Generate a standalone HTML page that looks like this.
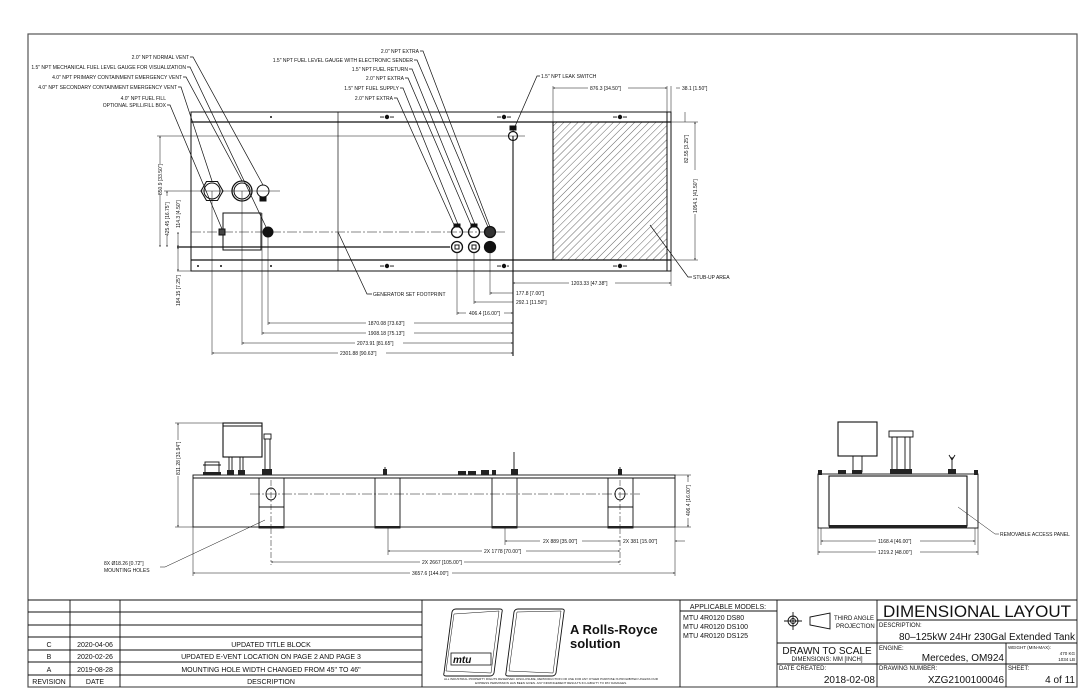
<!DOCTYPE html>
<html><head><meta charset="utf-8"><style>
html,body{margin:0;padding:0;background:#fff;}
svg{display:block;}
text{font-family:"Liberation Sans Narrow","Liberation Sans",sans-serif;fill:#111;}
.s{font-size:5px;}
.m{font-size:7px;}
</style></head><body>
<svg width="1090" height="700" viewBox="0 0 1090 700" xmlns="http://www.w3.org/2000/svg">
<defs>
<pattern id="h" patternUnits="userSpaceOnUse" width="5" height="5" patternTransform="rotate(45)">
<line x1="0" y1="0" x2="0" y2="5" stroke="#222" stroke-width="0.7"/>
</pattern>
<marker id="a" viewBox="0 0 6 6" refX="6" refY="3" markerWidth="4" markerHeight="4" orient="auto-start-reverse"><path d="M0 1L6 3L0 5z" fill="#111"/></marker>
</defs>
<rect x="0" y="0" width="1090" height="700" fill="#fff"/>
<rect x="28" y="34" width="1049" height="653" fill="none" stroke="#555" stroke-width="1.2"/>

<!-- ===== TOP VIEW ===== -->
<g stroke="#111" fill="none" stroke-width="1">
<rect x="191" y="112" width="480" height="159"/>
<line x1="191" y1="122" x2="671" y2="122" stroke-width="1.2"/>
<line x1="191" y1="260" x2="671" y2="260" stroke-width="1.2"/>
<line x1="338" y1="112" x2="338" y2="271" stroke-width="0.7"/>
<rect x="553" y="122" width="114" height="138" fill="url(#h)"/>
<line x1="667" y1="112" x2="667" y2="271"/>
<line x1="157" y1="136" x2="525" y2="136" stroke-width="0.5"/>
<line x1="177" y1="247" x2="450" y2="247" stroke-width="1.2"/>
<line x1="177" y1="271" x2="191" y2="271" stroke-width="0.5"/>
<line x1="157" y1="191" x2="280" y2="191" stroke-width="0.5"/>
<line x1="191" y1="232" x2="505" y2="232" stroke-width="0.6" stroke-dasharray="10 2 2 2"/>
<polygon points="223,191 217.5,200.5 206.5,200.5 201,191 206.5,181.5 217.5,181.5" stroke-width="1.1"/>
<circle cx="212" cy="191" r="8"/>
<circle cx="242" cy="191" r="10" stroke-width="1.3"/>
<circle cx="242" cy="191" r="8"/>
<circle cx="263" cy="191" r="6" stroke-width="1"/>
<rect x="260" y="197" width="6" height="4" fill="#111"/>
<rect x="223" y="213" width="38" height="37"/>
<rect x="219" y="229" width="6" height="6" fill="#444"/>
<circle cx="268" cy="232" r="5" fill="#111"/>
<line x1="212" y1="191" x2="212" y2="355" stroke-width="0.5"/>
<line x1="242" y1="191" x2="242" y2="345" stroke-width="0.5"/>
<line x1="262" y1="213" x2="262" y2="335" stroke-width="0.5"/>
<line x1="268" y1="232" x2="268" y2="325" stroke-width="0.5"/>
<g stroke-width="1.3">
<circle cx="457" cy="232" r="5.5"/><circle cx="474" cy="232" r="5.5"/><circle cx="490" cy="232" r="5.5" fill="#333"/>
<circle cx="457" cy="247" r="5.5"/><circle cx="474" cy="247" r="5.5"/><circle cx="490" cy="247" r="5.5" fill="#111"/>
</g>
<rect x="454" y="224" width="6" height="3" fill="#111"/><rect x="471" y="224" width="6" height="3" fill="#111"/>
<rect x="455" y="245" width="4" height="4"/><rect x="472" y="245" width="4" height="4"/>
<line x1="457" y1="252" x2="457" y2="315" stroke-width="0.5"/>
<line x1="474" y1="252" x2="474" y2="304" stroke-width="0.5"/>
<line x1="490" y1="252" x2="490" y2="295" stroke-width="0.5"/>
<circle cx="513" cy="136" r="4.5" stroke-width="1.2"/>
<rect x="510" y="126" width="6" height="4" fill="#111"/>
<line x1="513" y1="136" x2="513" y2="356" stroke-width="1.1"/>
</g>
<g fill="#111">
<circle cx="271" cy="117" r="1"/>
<circle cx="387" cy="117" r="2.2"/><circle cx="381" cy="117" r="0.8"/><circle cx="383" cy="117" r="0.8"/><circle cx="391" cy="117" r="0.8"/><circle cx="393" cy="117" r="0.8"/>
<circle cx="504" cy="117" r="2.2"/><circle cx="498" cy="117" r="0.8"/><circle cx="500" cy="117" r="0.8"/><circle cx="508" cy="117" r="0.8"/><circle cx="510" cy="117" r="0.8"/>
<circle cx="620" cy="117" r="2.2"/><circle cx="614" cy="117" r="0.8"/><circle cx="616" cy="117" r="0.8"/><circle cx="624" cy="117" r="0.8"/><circle cx="626" cy="117" r="0.8"/>
<circle cx="198" cy="266" r="1"/><circle cx="221" cy="266" r="1"/><circle cx="271" cy="266" r="1"/>
<circle cx="387" cy="266" r="2.2"/><circle cx="381" cy="266" r="0.8"/><circle cx="383" cy="266" r="0.8"/><circle cx="391" cy="266" r="0.8"/><circle cx="393" cy="266" r="0.8"/>
<circle cx="504" cy="266" r="2.2"/><circle cx="498" cy="266" r="0.8"/><circle cx="500" cy="266" r="0.8"/><circle cx="508" cy="266" r="0.8"/>
<circle cx="620" cy="266" r="2.2"/><circle cx="614" cy="266" r="0.8"/><circle cx="616" cy="266" r="0.8"/><circle cx="624" cy="266" r="0.8"/><circle cx="626" cy="266" r="0.8"/>
</g>
<g stroke="#111" stroke-width="0.7" fill="none">
<polyline points="190,57 193,57 263,185"/>
<polyline points="187,67 190,67 266,227"/>
<polyline points="183,77 186,77 242,181"/>
<polyline points="178,87 181,87 212,181"/>
<polyline points="167,105 170,105 222,229"/>
<polyline points="420,51 423,51 490,227"/>
<polyline points="414,60 417,60 488,227"/>
<polyline points="409,69 412,69 476,227"/>
<polyline points="405,78 408,78 472,227"/>
<polyline points="400,88 403,88 459,227"/>
<polyline points="394,98 397,98 455,227"/>
<polyline points="513,131 537,76 540,76"/>
<polyline points="338,232 367,294 372,294"/>
<polyline points="650,225 688,277 692,277"/>
</g>
<g class="s" text-anchor="end">
<text x="189" y="59">2.0" NPT NORMAL VENT</text>
<text x="186" y="69">1.5" NPT MECHANICAL FUEL LEVEL GAUGE FOR VISUALIZATION</text>
<text x="182" y="79">4.0" NPT PRIMARY CONTAINMENT EMERGENCY VENT</text>
<text x="177" y="89">4.0" NPT SECONDARY CONTAINMENT EMERGENCY VENT</text>
<text x="166" y="100">4.0" NPT FUEL FILL</text>
<text x="166" y="107">OPTIONAL SPILL/FILL BOX</text>
<text x="419" y="53">2.0" NPT EXTRA</text>
<text x="413" y="62">1.5" NPT FUEL LEVEL GAUGE WITH ELECTRONIC SENDER</text>
<text x="408" y="71">1.5" NPT FUEL RETURN</text>
<text x="404" y="80">2.0" NPT EXTRA</text>
<text x="399" y="90">1.5" NPT FUEL SUPPLY</text>
<text x="393" y="100">2.0" NPT EXTRA</text>
</g>
<g class="s">
<text x="541" y="78">1.5" NPT LEAK SWITCH</text>
<text x="373" y="296">GENERATOR SET FOOTPRINT</text>
<text x="693" y="279">STUB-UP AREA</text>
</g>
<g stroke="#111" stroke-width="0.5" fill="none">
<line x1="160" y1="136" x2="160" y2="247" marker-start="url(#a)" marker-end="url(#a)"/>
<line x1="167" y1="191" x2="167" y2="247" marker-start="url(#a)" marker-end="url(#a)"/>
<line x1="178" y1="232" x2="178" y2="247" marker-start="url(#a)" marker-end="url(#a)"/>
<line x1="178" y1="247" x2="178" y2="271" marker-start="url(#a)" marker-end="url(#a)"/>
<line x1="490" y1="293" x2="513" y2="293" marker-start="url(#a)"/>
<line x1="474" y1="302" x2="513" y2="302" marker-start="url(#a)"/>
<line x1="457" y1="313" x2="513" y2="313" marker-start="url(#a)" marker-end="url(#a)"/>
<line x1="268" y1="323" x2="513" y2="323" marker-start="url(#a)" marker-end="url(#a)"/>
<line x1="262" y1="333" x2="513" y2="333" marker-start="url(#a)" marker-end="url(#a)"/>
<line x1="242" y1="343" x2="513" y2="343" marker-start="url(#a)" marker-end="url(#a)"/>
<line x1="212" y1="353" x2="513" y2="353" marker-start="url(#a)" marker-end="url(#a)"/>
<line x1="553" y1="88" x2="667" y2="88" marker-start="url(#a)" marker-end="url(#a)"/>
<line x1="553" y1="86" x2="553" y2="122"/><line x1="667" y1="86" x2="667" y2="112"/><line x1="671" y1="86" x2="671" y2="112"/>
<line x1="676" y1="88" x2="680" y2="88"/>
<line x1="685" y1="112" x2="685" y2="122"/>
<line x1="695" y1="122" x2="695" y2="260" marker-start="url(#a)" marker-end="url(#a)"/>
<line x1="671" y1="122" x2="698" y2="122"/><line x1="671" y1="260" x2="698" y2="260"/>
<line x1="513" y1="283" x2="671" y2="283" marker-start="url(#a)" marker-end="url(#a)"/>
<line x1="671" y1="271" x2="671" y2="286"/>
</g>
<g class="s" fill="#111">
<rect x="152" y="164" width="12" height="30" fill="#fff"/>
<text transform="translate(162,195) rotate(-90)">850.9 [33.50"]</text>
<rect x="163" y="196" width="8" height="40" fill="#fff"/>
<text transform="translate(169,236) rotate(-90)">425.45 [16.75"]</text>
<text transform="translate(180,228) rotate(-90)">114.3 [4.50"]</text>
<text transform="translate(180,306) rotate(-90)">184.15 [7.25"]</text>
<text x="516" y="295">177.8 [7.00"]</text>
<text x="516" y="304">292.1 [11.50"]</text>
<rect x="466" y="309" width="38" height="7" fill="#fff"/>
<text x="469" y="315">406.4 [16.00"]</text>
<rect x="366" y="319" width="48" height="7" fill="#fff"/><text x="368" y="325">1870.08 [73.63"]</text>
<rect x="366" y="329" width="48" height="7" fill="#fff"/><text x="368" y="335">1908.18 [75.13"]</text>
<rect x="355" y="339" width="48" height="7" fill="#fff"/><text x="357" y="345">2073.91 [81.65"]</text>
<rect x="338" y="349" width="48" height="7" fill="#fff"/><text x="340" y="355">2301.88 [90.63"]</text>
<rect x="588" y="84" width="40" height="7" fill="#fff"/><text x="590" y="90">876.3 [34.50"]</text>
<text x="682" y="90">38.1 [1.50"]</text>
<rect x="682" y="130" width="8" height="34" fill="#fff"/>
<text transform="translate(688,163) rotate(-90)">82.55 [3.25"]</text>
<rect x="691" y="170" width="8" height="44" fill="#fff"/>
<text transform="translate(697,213) rotate(-90)">1054.1 [41.50"]</text>
<rect x="569" y="279" width="46" height="7" fill="#fff"/><text x="571" y="285">1203.33 [47.38"]</text>
</g>
<!-- ===== SIDE VIEW ===== -->
<g stroke="#111" fill="none" stroke-width="0.9">
<rect x="193" y="475" width="482" height="52"/>
<line x1="193" y1="478" x2="675" y2="478"/>
<rect x="259" y="478" width="25" height="50"/>
<rect x="375" y="478" width="25" height="50"/>
<rect x="492" y="478" width="25" height="50"/>
<rect x="608" y="478" width="25" height="50"/>
<line x1="259" y1="507" x2="284" y2="507"/><line x1="608" y1="507" x2="633" y2="507"/>
<ellipse cx="271" cy="494" rx="5" ry="6"/><ellipse cx="620" cy="494" rx="5" ry="6"/>
<line x1="250" y1="494" x2="640" y2="494" stroke-width="0.5" stroke-dasharray="10 2 2 2"/>
<line x1="271" y1="480" x2="271" y2="565" stroke-width="0.5" stroke-dasharray="6 2 2 2"/>
<line x1="620" y1="480" x2="620" y2="565" stroke-width="0.5" stroke-dasharray="6 2 2 2"/>
<rect x="223" y="423" width="39" height="34" stroke-width="1.1"/>
<line x1="223" y1="426" x2="262" y2="426"/>
<line x1="229" y1="457" x2="229" y2="472"/><line x1="232" y1="457" x2="232" y2="472"/>
<line x1="240" y1="457" x2="240" y2="472"/><line x1="243" y1="457" x2="243" y2="472"/>
<rect x="264" y="434" width="7" height="5"/>
<line x1="265" y1="439" x2="265" y2="470"/><line x1="270" y1="439" x2="270" y2="470"/>
<rect x="205" y="462" width="14" height="12"/>
<line x1="203" y1="465" x2="221" y2="465"/>
<line x1="385" y1="467" x2="385" y2="475"/>
<line x1="514" y1="452" x2="514" y2="470"/>
<line x1="620" y1="467" x2="620" y2="475"/>
</g>
<g fill="#222">
<rect x="227" y="470" width="7" height="5"/><rect x="238" y="470" width="7" height="5"/><rect x="262" y="469" width="10" height="6"/>
<rect x="203" y="472" width="18" height="3"/>
<rect x="383" y="469" width="4" height="6"/><rect x="618" y="469" width="4" height="6"/>
<rect x="458" y="471" width="8" height="4"/><rect x="468" y="471" width="8" height="4"/><rect x="481" y="470" width="8" height="5"/><rect x="492" y="470" width="4" height="5"/><rect x="511" y="469" width="7" height="6"/>
<rect x="259" y="526" width="25" height="2"/><rect x="375" y="526" width="25" height="2"/><rect x="492" y="526" width="25" height="2"/><rect x="608" y="526" width="25" height="2"/>
</g>
<g stroke="#111" stroke-width="0.5" fill="none">
<line x1="178" y1="423" x2="178" y2="527" marker-start="url(#a)" marker-end="url(#a)"/>
<line x1="175" y1="423" x2="223" y2="423"/><line x1="175" y1="527" x2="193" y2="527"/>
<line x1="688" y1="475" x2="688" y2="527" marker-start="url(#a)" marker-end="url(#a)"/>
<line x1="675" y1="475" x2="691" y2="475"/><line x1="675" y1="527" x2="691" y2="527"/>
<line x1="193" y1="527" x2="193" y2="576"/><line x1="675" y1="527" x2="675" y2="576"/>
<line x1="388" y1="528" x2="388" y2="555"/><line x1="505" y1="528" x2="505" y2="545"/>
<line x1="505" y1="541" x2="620" y2="541" marker-start="url(#a)" marker-end="url(#a)"/>
<line x1="675" y1="541" x2="685" y2="541" marker-start="url(#a)"/>
<line x1="388" y1="551" x2="620" y2="551" marker-start="url(#a)" marker-end="url(#a)"/>
<line x1="271" y1="562" x2="620" y2="562" marker-start="url(#a)" marker-end="url(#a)"/>
<line x1="193" y1="573" x2="675" y2="573" marker-start="url(#a)" marker-end="url(#a)"/>
<polyline points="160,567 165,567 265,520"/>
</g>
<g class="s">
<rect x="174" y="440" width="8" height="36" fill="#fff"/>
<text transform="translate(180,475) rotate(-90)">811.28 [31.94"]</text>
<rect x="684" y="482" width="8" height="36" fill="#fff"/>
<text transform="translate(690,516) rotate(-90)">406.4 [16.00"]</text>
<rect x="540" y="537" width="42" height="7" fill="#fff"/><text x="543" y="543">2X 889 [35.00"]</text>
<text x="623" y="543">2X 381 [15.00"]</text>
<rect x="482" y="547" width="44" height="7" fill="#fff"/><text x="484" y="553">2X 1778 [70.00"]</text>
<rect x="420" y="558" width="44" height="7" fill="#fff"/><text x="422" y="564">2X 2667 [105.00"]</text>
<rect x="410" y="569" width="42" height="7" fill="#fff"/><text x="412" y="575">3657.6 [144.00"]</text>
<text x="104" y="565">8X Ø18.26 [0.72"]</text>
<text x="104" y="572">MOUNTING HOLES</text>
</g>
<!-- ===== END VIEW ===== -->
<g stroke="#111" fill="none" stroke-width="0.9">
<rect x="818" y="474" width="160" height="54"/>
<rect x="829" y="476" width="138" height="50" stroke-width="1.1"/>
<rect x="838" y="422" width="39" height="34" stroke-width="1.1"/>
<rect x="853" y="456" width="9" height="16"/>
<rect x="889" y="431" width="24" height="6"/>
<rect x="892" y="437" width="18" height="34"/>
<line x1="897" y1="437" x2="897" y2="471"/><line x1="905" y1="437" x2="905" y2="471"/>
<line x1="952" y1="457" x2="952" y2="470"/>
<line x1="949" y1="455" x2="952" y2="460"/><line x1="955" y1="455" x2="952" y2="460"/>
</g>
<g fill="#222">
<rect x="818" y="470" width="4" height="5"/><rect x="974" y="470" width="4" height="5"/>
<rect x="838" y="470" width="8" height="4"/><rect x="852" y="470" width="10" height="4"/><rect x="890" y="469" width="22" height="5"/><rect x="948" y="469" width="8" height="5"/>
<rect x="829" y="525" width="138" height="3"/>
</g>
<g stroke="#111" stroke-width="0.5" fill="none">
<line x1="818" y1="528" x2="818" y2="555"/><line x1="978" y1="528" x2="978" y2="555"/>
<line x1="821" y1="528" x2="821" y2="545"/><line x1="975" y1="528" x2="975" y2="545"/>
<line x1="821" y1="541" x2="975" y2="541" marker-start="url(#a)" marker-end="url(#a)"/>
<line x1="818" y1="552" x2="978" y2="552" marker-start="url(#a)" marker-end="url(#a)"/>
<polyline points="958,507 995,534 999,534"/>
</g>
<g class="s">
<rect x="876" y="537" width="44" height="7" fill="#fff"/><text x="878" y="543">1168.4 [46.00"]</text>
<rect x="876" y="548" width="44" height="7" fill="#fff"/><text x="878" y="554">1219.2 [48.00"]</text>
<text x="1000" y="536">REMOVABLE ACCESS PANEL</text>
</g>
<!-- ===== TITLE BLOCK ===== -->
<g stroke="#111" stroke-width="0.9" fill="none">
<line x1="28" y1="600" x2="1077" y2="600"/>
<line x1="70" y1="600" x2="70" y2="687"/>
<line x1="120" y1="600" x2="120" y2="687"/>
<line x1="422" y1="600" x2="422" y2="687"/>
<line x1="680" y1="600" x2="680" y2="687"/>
<line x1="28" y1="612" x2="422" y2="612"/>
<line x1="28" y1="625" x2="422" y2="625"/>
<line x1="28" y1="637" x2="422" y2="637"/>
<line x1="28" y1="650" x2="422" y2="650"/>
<line x1="28" y1="662" x2="422" y2="662"/>
<line x1="28" y1="675" x2="422" y2="675"/>
<line x1="680" y1="611" x2="777" y2="611"/>
<line x1="777" y1="600" x2="777" y2="687"/>
<line x1="877" y1="600" x2="877" y2="687"/>
<line x1="877" y1="620" x2="1077" y2="620"/>
<line x1="777" y1="643" x2="1077" y2="643"/>
<line x1="777" y1="664" x2="1077" y2="664"/>
<line x1="1006" y1="643" x2="1006" y2="687"/>
<circle cx="793" cy="621" r="5"/><circle cx="793" cy="621" r="2.5"/>
<line x1="784" y1="621" x2="802" y2="621"/><line x1="793" y1="612" x2="793" y2="630"/>
<polygon points="810,617 810,625 830,629 830,613"/>
<path d="M444,673 L452,612 Q453,609 456,609 L500,609 Q503,609 502,612 L494,673 Q493,676 490,676 L446,676 Q443,676 444,673Z"/>
<path d="M446,671 L454,614 L499,611 L491,673Z" stroke-width="0.5"/>
<path d="M506,673 L514,612 Q515,609 518,609 L562,609 Q565,609 564,612 L556,673 Q555,676 552,676 L508,676 Q505,676 506,673Z"/>
<path d="M509,671 L517,612 L561,611 L553,673Z" stroke-width="0.5"/>
</g>
<rect x="451" y="653" width="40" height="12" fill="#fff" stroke="#111" stroke-width="0.8"/>
<text x="453" y="663" style="font-size:10px;font-style:italic;font-weight:bold;">mtu</text>
<text x="570" y="634" style="font-family:'Liberation Sans',sans-serif;font-size:13px;font-weight:bold;">A Rolls-Royce</text>
<text x="570" y="648" style="font-family:'Liberation Sans',sans-serif;font-size:13px;font-weight:bold;">solution</text>
<text x="551" y="680" text-anchor="middle" style="font-size:3px;">ALL INDUSTRIAL PROPERTY RIGHTS RESERVED. DISCLOSURE, REPRODUCTION OR USE FOR ANY OTHER PURPOSE IS PROHIBITED UNLESS OUR</text>
<text x="551" y="684" text-anchor="middle" style="font-size:3px;">EXPRESS PERMISSION HAS BEEN GIVEN. ANY INFRINGEMENT RESULTS IN LIABILITY TO PAY DAMAGES.</text>
<g class="m" text-anchor="middle">
<text x="49" y="647">C</text><text x="95" y="647">2020-04-06</text><text x="271" y="647">UPDATED TITLE BLOCK</text>
<text x="49" y="659">B</text><text x="95" y="659">2020-02-26</text><text x="271" y="659">UPDATED E-VENT LOCATION ON PAGE 2 AND PAGE 3</text>
<text x="49" y="672">A</text><text x="95" y="672">2019-08-28</text><text x="271" y="672">MOUNTING HOLE WIDTH CHANGED FROM 45" TO 46"</text>
<text x="49" y="684">REVISION</text><text x="95" y="684">DATE</text><text x="271" y="684">DESCRIPTION</text>
<text x="728" y="609">APPLICABLE MODELS:</text>
</g>
<g class="m">
<text x="683" y="620">MTU 4R0120 DS80</text>
<text x="683" y="629">MTU 4R0120 DS100</text>
<text x="683" y="638">MTU 4R0120 DS125</text>
<text x="834" y="620" style="font-size:6px">THIRD ANGLE</text>
<text x="836" y="628" style="font-size:6px">PROJECTION</text>
</g>
<text x="827" y="654" text-anchor="middle" style="font-size:10px;">DRAWN TO SCALE</text>
<text x="827" y="661" text-anchor="middle" style="font-size:6px">DIMENSIONS: MM [INCH]</text>
<text x="779" y="670" style="font-size:6px">DATE CREATED:</text>
<text x="875" y="683" text-anchor="end" style="font-size:10px;">2018-02-08</text>
<text x="977" y="617" text-anchor="middle" style="font-size:17px;">DIMENSIONAL LAYOUT</text>
<text x="879" y="627" style="font-size:6px">DESCRIPTION:</text>
<text x="1075" y="640" text-anchor="end" style="font-size:10px;">80–125kW 24Hr 230Gal Extended Tank</text>
<text x="879" y="650" style="font-size:6px">ENGINE:</text>
<text x="1004" y="661" text-anchor="end" style="font-size:10px;">Mercedes, OM924</text>
<text x="1008" y="649" style="font-size:4.5px">WEIGHT (MIN-MAX):</text>
<text x="1075" y="655" text-anchor="end" style="font-size:4.5px;">470 KG</text>
<text x="1075" y="661" text-anchor="end" style="font-size:4.5px;">1034 LB</text>
<text x="879" y="670" style="font-size:6px">DRAWING NUMBER:</text>
<text x="1004" y="683" text-anchor="end" style="font-size:10px;">XZG2100100046</text>
<text x="1008" y="670" style="font-size:6px">SHEET:</text>
<text x="1075" y="683" text-anchor="end" style="font-size:10px;">4 of 11</text>
</svg>
</body></html>
